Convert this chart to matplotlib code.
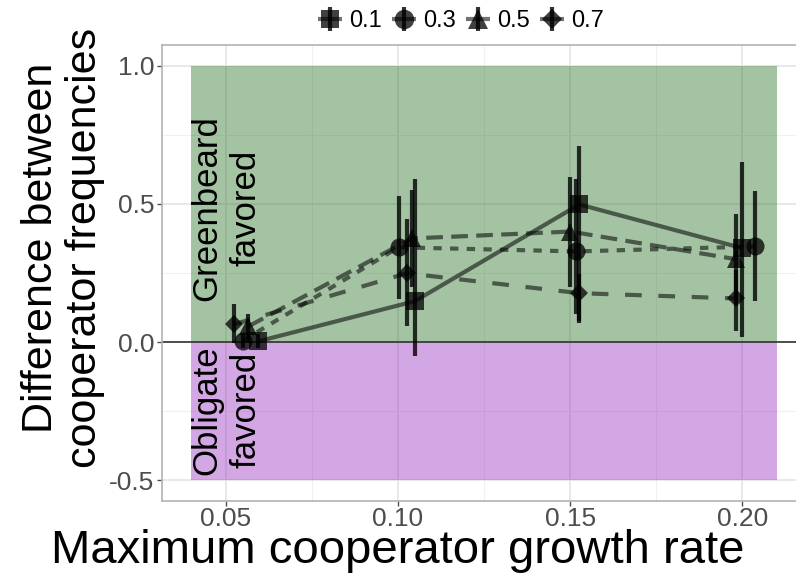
import matplotlib
matplotlib.use("Agg")
import matplotlib.pyplot as plt
from matplotlib.lines import Line2D
from matplotlib.patches import Rectangle
from matplotlib.legend_handler import HandlerTuple
from matplotlib.ticker import MultipleLocator

plt.rcParams["font.family"] = ["Liberation Sans", "DejaVu Sans"]

# cost levels (legend) and their marker / linetype
cost_levels = ["0.1", "0.3", "0.5", "0.7"]
markers = ["s", "o", "^", "D"]
marker_sizes = [12.5, 13, 13.5, 9.5]
dashes = [None, (2, 2), (4, 2), (4, 4)]

# dodged x positions (maximum cooperator growth rate) per cost level
x_vals = [
    [0.0595, 0.1049, 0.1527, 0.2000],
    [0.0549, 0.1002, 0.1518, 0.2037],
    [0.0566, 0.1040, 0.1501, 0.1981],
    [0.0523, 0.1026, 0.1527, 0.1981],
]
# difference between cooperator frequencies
y_vals = [
    [0.003, 0.148, 0.498, 0.340],
    [0.005, 0.343, 0.328, 0.346],
    [0.057, 0.375, 0.400, 0.300],
    [0.064, 0.249, 0.177, 0.158],
]
y_low = [
    [-0.020, -0.051, 0.068, 0.020],
    [-0.020, 0.155, 0.100, 0.148],
    [-0.005, 0.200, 0.198, 0.140],
    [-0.004, 0.057, 0.075, 0.040],
]
y_high = [
    [0.030, 0.589, 0.708, 0.650],
    [0.030, 0.527, 0.589, 0.545],
    [0.100, 0.550, 0.596, 0.462],
    [0.137, 0.447, 0.245, 0.260],
]

# shaded regions
region_x = [0.04, 0.21]
greenbeard_y = [0.0, 1.0]
obligate_y = [-0.5, 0.0]

fig = plt.figure(figsize=(7.96, 5.74), dpi=100)
ax = fig.add_axes([162 / 796, 1 - 501 / 574, (806 - 162) / 796, (501 - 45) / 574])

ax.set_xlim(0.0315, 0.2185)
ax.set_ylim(-0.575, 1.075)

# theme_bw-like grid
ax.xaxis.set_major_locator(MultipleLocator(0.05))
ax.xaxis.set_minor_locator(MultipleLocator(0.025))
ax.yaxis.set_major_locator(MultipleLocator(0.5))
ax.yaxis.set_minor_locator(MultipleLocator(0.25))
ax.grid(which="major", color="#e6e6e6", linewidth=1.3, zorder=0)
ax.grid(which="minor", color="#f0f0f0", linewidth=0.8, zorder=0)
ax.set_axisbelow(True)

ax.add_patch(Rectangle((region_x[0], greenbeard_y[0]), region_x[1] - region_x[0],
                       greenbeard_y[1] - greenbeard_y[0],
                       facecolor="#1b6b1b", alpha=0.4, edgecolor="none", zorder=1))
ax.add_patch(Rectangle((region_x[0], obligate_y[0]), region_x[1] - region_x[0],
                       obligate_y[1] - obligate_y[0],
                       facecolor="#9123b9", alpha=0.4, edgecolor="none", zorder=1))
ax.axhline(0, color="#333333", linewidth=1.2, zorder=2)

ax.text(0.0503, 0.485, "Greenbeard\nfavored", rotation=90, ha="center", va="center",
        fontsize=25, linespacing=1.25, zorder=3)
ax.text(0.0503, -0.245, "Obligate\nfavored", rotation=90, ha="center", va="center",
        fontsize=25, linespacing=1.25, zorder=3)

for i in range(len(cost_levels)):
    ln, = ax.plot(x_vals[i], y_vals[i], color="black", alpha=0.55, linewidth=3.0,
                  zorder=4, solid_capstyle="butt", dash_capstyle="butt")
    if dashes[i] is not None:
        ln.set_dashes(dashes[i])
    ax.vlines(x_vals[i], y_low[i], y_high[i], color="black", alpha=0.8,
              linewidth=3.0, zorder=5)
    ax.plot(x_vals[i], y_vals[i], linestyle="none", marker=markers[i],
            markersize=marker_sizes[i], color="black", alpha=0.75,
            markeredgewidth=0, zorder=6)

for s in ax.spines.values():
    s.set_color("#b3b3b3")
    s.set_linewidth(1.2)

ax.set_xticks([0.05, 0.10, 0.15, 0.20])
ax.set_xticklabels(["0.05", "0.10", "0.15", "0.20"])
ax.set_yticks([-0.5, 0.0, 0.5, 1.0])
ax.set_yticklabels(["-0.5", "0.0", "0.5", "1.0"])
ax.tick_params(which="major", labelsize=19, labelcolor="#4d4d4d", color="#4d4d4d",
               length=3.5, width=1, pad=2)
ax.tick_params(axis="x", which="major", pad=1)
ax.tick_params(which="minor", length=0)

fig.text(398 / 796, 1 - 563 / 574, "Maximum cooperator growth rate",
         ha="center", va="baseline", fontsize=34)
fig.text(63 / 796, 1 - 248 / 574, "Difference between\ncooperator frequencies",
         rotation=90, ha="center", va="center", fontsize=31, linespacing=1.12,
         multialignment="center")

handles = []
for i in range(len(cost_levels)):
    mk = Line2D([], [], linestyle="none", marker=markers[i], markersize=marker_sizes[i] + 1,
                color="black", alpha=0.75, markeredgewidth=0)
    vbar = Line2D([], [], linestyle="none", marker="|", markersize=17,
                  markeredgewidth=3, color="black", alpha=0.8)
    hbar = Line2D([], [], linestyle="none", marker="_", markersize=17,
                  markeredgewidth=3, color="black", alpha=0.55)
    handles.append((mk, vbar, hbar))

fig.legend(handles, cost_levels, handler_map={tuple: HandlerTuple(ndivide=1, pad=0)},
           loc="center", bbox_to_anchor=(461 / 796, 1 - 21 / 574), ncol=4,
           frameon=False, fontsize=17, handlelength=1.0, handletextpad=0.3,
           columnspacing=0.45, borderpad=0)

fig.savefig("out.png", dpi=100)
